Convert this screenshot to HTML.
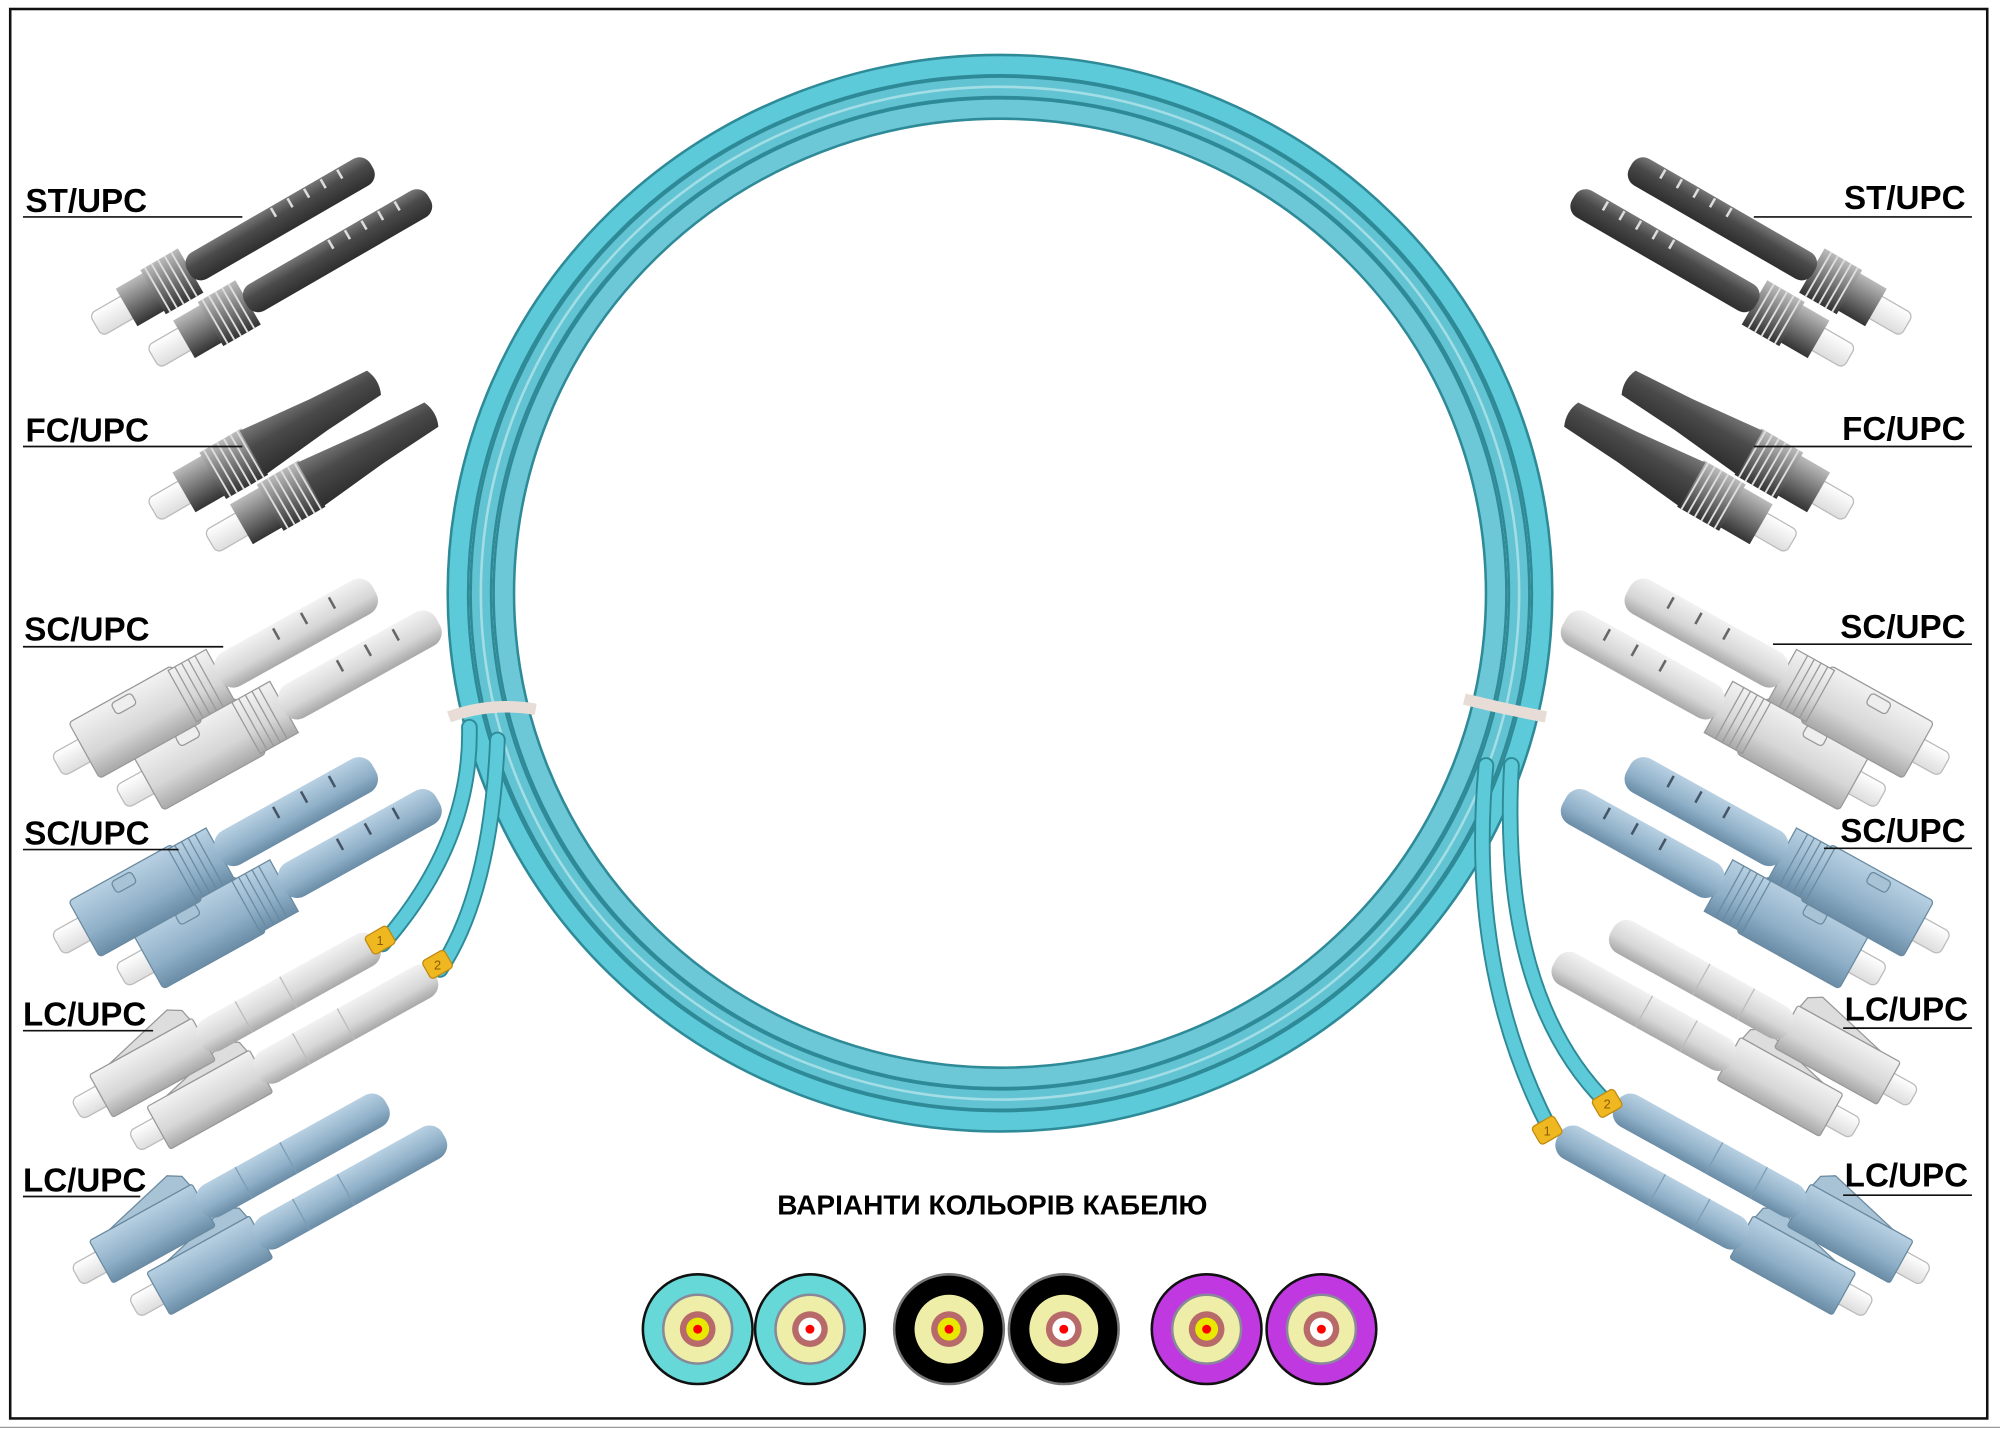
<!DOCTYPE html>
<html><head><meta charset="utf-8"><style>
html,body{margin:0;padding:0;background:#fff;}
svg{display:block;}
.lb{font-family:"Liberation Sans Narrow","Liberation Sans",sans-serif;font-weight:bold;font-size:26px;fill:#000;}
</style></head><body>
<svg width="2000" height="1430" viewBox="0 0 1568 1121" xmlns="http://www.w3.org/2000/svg">
<defs>
<linearGradient id="gd" x1="0" y1="0" x2="0" y2="1"><stop offset="0" stop-color="#777"/><stop offset=".4" stop-color="#4a4a4a"/><stop offset="1" stop-color="#2e2e2e"/></linearGradient>
<linearGradient id="gm" x1="0" y1="0" x2="0" y2="1"><stop offset="0" stop-color="#bbb"/><stop offset=".5" stop-color="#777"/><stop offset="1" stop-color="#333"/></linearGradient>
<linearGradient id="gw" x1="0" y1="0" x2="0" y2="1"><stop offset="0" stop-color="#f2f2f2"/><stop offset=".6" stop-color="#d6d6d6"/><stop offset="1" stop-color="#a8a8a8"/></linearGradient>
<linearGradient id="gb" x1="0" y1="0" x2="0" y2="1"><stop offset="0" stop-color="#b8d0e2"/><stop offset=".6" stop-color="#8fb0c8"/><stop offset="1" stop-color="#6a8ca6"/></linearGradient>
<linearGradient id="gf" x1="0" y1="0" x2="0" y2="1"><stop offset="0" stop-color="#fff"/><stop offset="1" stop-color="#ddd"/></linearGradient>
<g id="st">
  <rect x="0" y="-10" width="32" height="20" rx="5" fill="url(#gf)" stroke="#bbb"/>
  <rect x="28" y="-17" width="26" height="34" fill="url(#gm)"/>
  <rect x="52" y="-20" width="34" height="40" fill="url(#gm)"/>
  <path d="M56-20v40M62-20v40M68-20v40M74-20v40M80-20v40" stroke="#ddd" stroke-width="1.5"/>
  <rect x="84" y="-12" width="166" height="24" rx="10" fill="url(#gd)"/>
  <path d="M165-11v8M180-11v8M195-11v8M210-11v8M225-11v8" stroke="#ddd" stroke-width="2"/>
</g>
<g id="fc">
  <rect x="0" y="-10" width="32" height="20" rx="5" fill="url(#gf)" stroke="#bbb"/>
  <rect x="28" y="-18" width="28" height="36" fill="url(#gm)"/>
  <rect x="54" y="-21" width="38" height="42" fill="url(#gm)"/>
  <path d="M58-21v42M64-21v42M70-21v42M76-21v42M82-21v42M88-21v42" stroke="#ddd" stroke-width="1.5"/>
  <path d="M90-20L150-14L200-11Q205 0 200 11L150 14L90 20Z" fill="url(#gd)"/>
</g>
<g id="scw">
  <rect x="0" y="-10" width="30" height="20" rx="5" fill="url(#gf)" stroke="#bbb"/>
  <rect x="24" y="-25" width="92" height="50" rx="3" fill="url(#gw)" stroke="#999"/>
  <rect x="60" y="-22" width="18" height="10" rx="3" fill="#eee" stroke="#999"/>
  <rect x="112" y="-23" width="34" height="46" fill="url(#gw)" stroke="#999"/>
  <path d="M118-23v46M124-23v46M130-23v46M136-23v46" stroke="#999"/>
  <rect x="144" y="-15" width="140" height="30" rx="12" fill="url(#gw)"/>
  <path d="M200-12v10M225-12v10M250-12v10" stroke="#666" stroke-width="2"/>
</g>
<g id="scb">
  <rect x="0" y="-10" width="30" height="20" rx="5" fill="url(#gf)" stroke="#bbb"/>
  <rect x="24" y="-25" width="92" height="50" rx="3" fill="url(#gb)" stroke="#6a8aa0"/>
  <rect x="60" y="-22" width="18" height="10" rx="3" fill="#a8c2d6" stroke="#6a8aa0"/>
  <rect x="112" y="-23" width="34" height="46" fill="url(#gb)" stroke="#6a8aa0"/>
  <path d="M118-23v46M124-23v46M130-23v46M136-23v46" stroke="#6a8aa0"/>
  <rect x="144" y="-15" width="140" height="30" rx="12" fill="url(#gb)"/>
  <path d="M200-12v10M225-12v10M250-12v10" stroke="#456" stroke-width="2"/>
</g>
<g id="lcw">
  <rect x="0" y="-9" width="28" height="18" rx="5" fill="url(#gf)" stroke="#bbb"/>
  <rect x="22" y="-19" width="92" height="38" rx="2" fill="url(#gw)" stroke="#999"/>
  <path d="M40-19L100-34L110-28L112-19Z" fill="#ddd" stroke="#999"/>
  <rect x="110" y="-14" width="160" height="28" rx="12" fill="url(#gw)"/>
  <path d="M150-14v28M190-14v28" stroke="#bbb"/>
</g>
<g id="lcb">
  <rect x="0" y="-9" width="28" height="18" rx="5" fill="url(#gf)" stroke="#bbb"/>
  <rect x="22" y="-19" width="92" height="38" rx="2" fill="url(#gb)" stroke="#6a8aa0"/>
  <path d="M40-19L100-34L110-28L112-19Z" fill="#a8c2d6" stroke="#6a8aa0"/>
  <rect x="110" y="-14" width="168" height="28" rx="12" fill="url(#gb)"/>
  <path d="M150-14v28M190-14v28" stroke="#7d9cb4"/>
</g>
<g id="conns">
  <use href="#st" transform="translate(120,280) rotate(-30)"/>
  <use href="#st" transform="translate(75,255) rotate(-30)"/>
  <use href="#fc" transform="translate(165,425) rotate(-30)"/>
  <use href="#fc" transform="translate(120,400) rotate(-30)"/>
  <use href="#scw" transform="translate(95,625) rotate(-29)"/>
  <use href="#scw" transform="translate(45,600) rotate(-29)"/>
  <use href="#scb" transform="translate(95,765) rotate(-29)"/>
  <use href="#scb" transform="translate(45,740) rotate(-29)"/>
  <use href="#lcb" transform="translate(105,1025) rotate(-29)"/>
  <use href="#lcb" transform="translate(60,1000) rotate(-29)"/>
</g>
</defs>

<rect x="0" y="0" width="1568" height="1121" fill="#fff"/>
<rect x="8" y="7" width="1550" height="1105" fill="none" stroke="#111" stroke-width="2"/>
<line x1="0" y1="1119" x2="1568" y2="1119" stroke="#999" stroke-width="1"/>

<g fill="none">
  <ellipse cx="784" cy="465" rx="425" ry="414" stroke="#2f8a98" stroke-width="18"/>
  <ellipse cx="784" cy="465" rx="425" ry="414" stroke="#5ccad8" stroke-width="14"/>
  <ellipse cx="784" cy="465" rx="407" ry="397" stroke="#2f8a98" stroke-width="18"/>
  <ellipse cx="784" cy="465" rx="407" ry="397" stroke="#62c4d2" stroke-width="14"/>
  <ellipse cx="784" cy="465" rx="389" ry="380" stroke="#2f8a98" stroke-width="18"/>
  <ellipse cx="784" cy="465" rx="389" ry="380" stroke="#6cc8d6" stroke-width="14"/>
  <ellipse cx="784" cy="465" rx="407" ry="397" stroke="#bfeaf0" stroke-width="2" opacity=".7"/>
</g>
<g fill="none" stroke-linecap="round">
  <path d="M368 570 Q370 660 300 740" stroke="#2f8a98" stroke-width="13"/>
  <path d="M368 570 Q370 660 300 740" stroke="#5ccad8" stroke-width="10"/>
  <path d="M390 580 Q385 700 345 760" stroke="#2f8a98" stroke-width="13"/>
  <path d="M390 580 Q385 700 345 760" stroke="#5ccad8" stroke-width="10"/>
  <path d="M1165 600 Q1150 760 1215 885" stroke="#2f8a98" stroke-width="13"/>
  <path d="M1165 600 Q1150 760 1215 885" stroke="#5ccad8" stroke-width="10"/>
  <path d="M1185 600 Q1175 780 1260 865" stroke="#2f8a98" stroke-width="13"/>
  <path d="M1185 600 Q1175 780 1260 865" stroke="#5ccad8" stroke-width="10"/>
</g>
<path d="M352 562 Q385 550 420 556" stroke="#e8ddd6" stroke-width="9" fill="none"/>
<path d="M1148 548 Q1180 556 1212 562" stroke="#e8ddd6" stroke-width="9" fill="none"/>

<use href="#conns"/>
<use href="#lcw" transform="translate(105,895) rotate(-29)"/>
<use href="#lcw" transform="translate(60,870) rotate(-29)"/>
<g transform="translate(1570,0) scale(-1,1)">
  <use href="#conns"/>
  <use href="#lcw" transform="translate(115,885) rotate(-29)"/>
  <use href="#lcw" transform="translate(70,860) rotate(-29)"/>
</g>

<g font-family="Liberation Sans,sans-serif" font-size="10" fill="#8a5a00" text-anchor="middle">
  <rect x="288" y="729" width="20" height="16" rx="3" fill="#f0b820" stroke="#c08a10" transform="rotate(-30 298 737)"/>
  <text x="298" y="741">1</text>
  <rect x="333" y="748" width="20" height="16" rx="3" fill="#f0b820" stroke="#c08a10" transform="rotate(-30 343 756)"/>
  <text x="343" y="760">2</text>
  <rect x="1203" y="878" width="20" height="16" rx="3" fill="#f0b820" stroke="#c08a10" transform="rotate(-30 1213 886)"/>
  <text x="1213" y="890">1</text>
  <rect x="1250" y="857" width="20" height="16" rx="3" fill="#f0b820" stroke="#c08a10" transform="rotate(-30 1260 865)"/>
  <text x="1260" y="869">2</text>
</g>

<g class="lb">
  <text class="lb" x="20" y="166">ST/UPC</text>
  <text class="lb" x="20" y="346">FC/UPC</text>
  <text class="lb" x="19" y="502">SC/UPC</text>
  <text class="lb" x="19" y="662">SC/UPC</text>
  <text class="lb" x="18" y="804">LC/UPC</text>
  <text class="lb" x="18" y="934">LC/UPC</text>
  <text class="lb" x="1541" y="164" text-anchor="end">ST/UPC</text>
  <text class="lb" x="1541" y="345" text-anchor="end">FC/UPC</text>
  <text class="lb" x="1541" y="500" text-anchor="end">SC/UPC</text>
  <text class="lb" x="1541" y="660" text-anchor="end">SC/UPC</text>
  <text class="lb" x="1543" y="800" text-anchor="end">LC/UPC</text>
  <text class="lb" x="1543" y="930" text-anchor="end">LC/UPC</text>
</g>
<g stroke="#111" stroke-width="1.3">
  <line x1="18" y1="170" x2="190" y2="170"/>
  <line x1="18" y1="350" x2="190" y2="350"/>
  <line x1="18" y1="507" x2="175" y2="507"/>
  <line x1="18" y1="666" x2="140" y2="666"/>
  <line x1="18" y1="808" x2="120" y2="808"/>
  <line x1="18" y1="938" x2="110" y2="938"/>
  <line x1="1375" y1="170" x2="1546" y2="170"/>
  <line x1="1375" y1="350" x2="1546" y2="350"/>
  <line x1="1390" y1="505" x2="1546" y2="505"/>
  <line x1="1430" y1="665" x2="1546" y2="665"/>
  <line x1="1445" y1="806" x2="1546" y2="806"/>
  <line x1="1445" y1="937" x2="1546" y2="937"/>
</g>

<text x="778" y="952" text-anchor="middle" font-family="Liberation Sans Narrow,Liberation Sans,sans-serif" font-weight="bold" font-size="22">ВАРІАНТИ КОЛЬОРІВ КАБЕЛЮ</text>

<g stroke-width="2">
  <g transform="translate(547,1042)"><circle r="43" fill="#66d8d8" stroke="#111"/><circle r="27" fill="#eeeea8" stroke="#889"/><circle r="14" fill="#b86a6a"/><circle r="9" fill="#e8e800"/><circle r="3.5" fill="#f00"/></g>
  <g transform="translate(635,1042)"><circle r="43" fill="#66d8d8" stroke="#111"/><circle r="27" fill="#eeeea8" stroke="#889"/><circle r="14" fill="#b86a6a"/><circle r="9" fill="#fff"/><circle r="3.5" fill="#f00"/></g>
  <g transform="translate(744,1042)"><circle r="43" fill="#000" stroke="#777"/><circle r="27" fill="#eeeea8"/><circle r="14" fill="#b86a6a"/><circle r="9" fill="#e8e800"/><circle r="3.5" fill="#f00"/></g>
  <g transform="translate(834,1042)"><circle r="43" fill="#000" stroke="#777"/><circle r="27" fill="#eeeea8"/><circle r="14" fill="#b86a6a"/><circle r="9" fill="#fff"/><circle r="3.5" fill="#f00"/></g>
  <g transform="translate(946,1042)"><circle r="43" fill="#c038e0" stroke="#111"/><circle r="27" fill="#eeeea8" stroke="#889"/><circle r="14" fill="#b86a6a"/><circle r="9" fill="#e8e800"/><circle r="3.5" fill="#f00"/></g>
  <g transform="translate(1036,1042)"><circle r="43" fill="#c038e0" stroke="#111"/><circle r="27" fill="#eeeea8" stroke="#889"/><circle r="14" fill="#b86a6a"/><circle r="9" fill="#fff"/><circle r="3.5" fill="#f00"/></g>
</g>
</svg>
</body></html>
